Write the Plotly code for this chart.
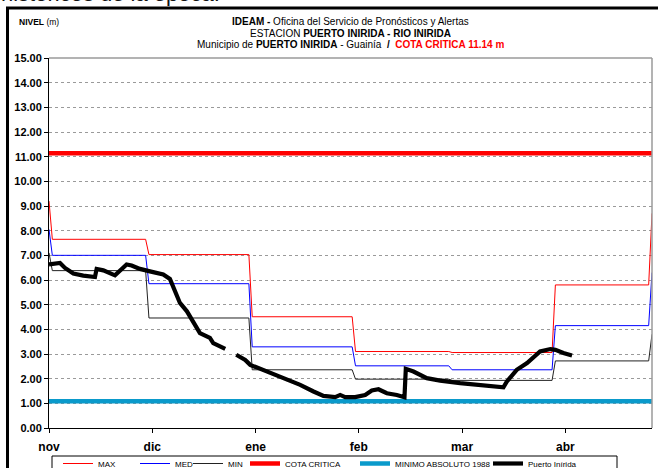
import plotly.graph_objects as go

# ---- data -------------------------------------------------------------
# x axis is a running day index (0 = 1 nov ... 181 = 30 abr)
MONTH_LABELS = ["nov", "dic", "ene", "feb", "mar", "abr"]
TICK_DAYS = [0, 31, 62, 93, 124, 155]
LAST_DAY = 181

# historical monthly statistics (m), one value per month nov..abr
MONTH_FIRST = [1, 30, 61, 92, 121, 152]
MONTH_LAST = [29, 60, 91, 120, 151, 180]
MAX_START, MAX_END = 9.20, 8.70
MAX_MONTHLY = [7.65, 7.03, 4.51, 3.10, 3.06, 5.80]
MED_START, MED_END = 8.05, 6.30
MED_MONTHLY = [7.00, 5.85, 3.29, 2.52, 2.36, 4.15]
MIN_START, MIN_END = 7.10, 3.80
MIN_MONTHLY = [6.38, 4.46, 2.36, 1.98, 1.93, 2.72]

COTA_CRITICA = 11.14
MINIMO_ABSOLUTO_1988 = 1.08

# observed daily level at Puerto Inírida (None = missing record)
OBS_DAY = [0, 3.3, 4.8, 7.3, 10.3, 13.8, 14.3, 16.3, 19.8, 21.8, 23.3, 24.8,
           27.3, 30.3, 34.3, 36.3, 37.3, 39.3, 41.4, 43.3, 45.3, 48.3, 49.3,
           52.9, 54.5, 56.2, 58.9, 60.4, 64.0, 69.4, 75.4, 79.4, 82.4, 85.9,
           87.4, 88.9, 91.9, 94.9, 96.9, 98.9, 99.9, 101.4, 104.4, 106.7,
           107.1, 109.4, 113.4, 117.4, 123.4, 129.4, 136.4, 137.4, 140.4,
           143.5, 147.4, 150.5, 152.0, 154.4, 157.0]
OBS_LEVEL = [6.63, 6.69, 6.49, 6.26, 6.18, 6.12, 6.45, 6.39, 6.19, 6.45, 6.63,
             6.59, 6.45, 6.35, 6.22, 6.04, 5.74, 5.07, 4.73, 4.26, 3.85, 3.65,
             3.44, 3.21, None, 2.97, 2.76, 2.56, 2.36, 2.09, 1.75, 1.48, 1.30,
             1.25, 1.34, 1.25, 1.25, 1.34, 1.52, 1.57, 1.52, 1.41, 1.34, 1.25,
             2.40, 2.29, 2.02, 1.92, 1.82, 1.73, 1.65, 1.88, 2.36, 2.63, 3.10,
             3.20, 3.17, 3.04, 2.94]


def step_series(start, monthly, end):
    """Day/level pairs for a month-by-month statistic."""
    xs, ys = [0], [start]
    for first, last, v in zip(MONTH_FIRST, MONTH_LAST, monthly):
        xs += [first, last]
        ys += [v, v]
    xs.append(LAST_DAY)
    ys.append(end)
    return xs, ys


ARIAL = "Liberation Sans, Arial, sans-serif"

fig = go.Figure()

for name, color, width, (xs, ys), lw in [
    ("MAX", "#ff0000", 1, step_series(MAX_START, MAX_MONTHLY, MAX_END), 32),
    ("MED", "#0000ff", 1, step_series(MED_START, MED_MONTHLY, MED_END), 8),
    ("MIN", "#222222", 1, step_series(MIN_START, MIN_MONTHLY, MIN_END), 12),
]:
    fig.add_trace(go.Scatter(x=xs, y=ys, mode="lines", name=name,
                             line=dict(color=color, width=width),
                             legendwidth=lw))

fig.add_trace(go.Scatter(x=[0, LAST_DAY], y=[COTA_CRITICA] * 2, mode="lines",
                         name="COTA CRITICA", legendwidth=65,
                         line=dict(color="#ff0000", width=4.5)))
fig.add_trace(go.Scatter(x=[0, LAST_DAY], y=[MINIMO_ABSOLUTO_1988] * 2,
                         mode="lines", name="MINIMO ABSOLUTO 1988",
                         legendwidth=88,
                         line=dict(color="#0a9acb", width=4.5)))
fig.add_trace(go.Scatter(x=OBS_DAY, y=OBS_LEVEL, mode="lines",
                         name="Puerto Inírida", legendwidth=55,
                         line=dict(color="#000000", width=4.2)))

fig.update_xaxes(range=[0, LAST_DAY], tickvals=TICK_DAYS,
                 ticktext=MONTH_LABELS, ticks="outside", ticklen=4,
                 tickcolor="#000", showline=True, linecolor="#000",
                 linewidth=1, showgrid=False, zeroline=False,
                 ticklabelstandoff=4,
                 tickfont=dict(family=ARIAL, size=12, color="#000",
                               weight="bold"))
fig.update_yaxes(range=[0, 15], dtick=1, tickformat=".2f", ticks="outside",
                 ticklen=4, tickcolor="#000", showline=True, linecolor="#000",
                 linewidth=1, showgrid=True, gridcolor="#9a9a9a",
                 griddash="dot", gridwidth=1, zeroline=False,
                 tickfont=dict(family=ARIAL, size=11, color="#000",
                               weight="bold"))


def py(p):
    """pixel row -> paper y"""
    return (428 - p) / 370


def px(p):
    """pixel column -> paper x"""
    return (p - 49) / 603


shapes = [
    # plot frame (top / right)
    dict(type="line", xref="paper", yref="paper", x0=0, x1=1, y0=1, y1=1,
         line=dict(color="#9a9a9a", width=1.5)),
    dict(type="line", xref="paper", yref="paper", x0=1, x1=1, y0=0, y1=1,
         line=dict(color="#9a9a9a", width=1.5)),
    # outer chart border
    dict(type="line", xref="paper", yref="paper", x0=px(7.5), x1=px(7.5),
         y0=py(500), y1=py(8), line=dict(color="#000", width=3)),
    dict(type="line", xref="paper", yref="paper", x0=px(6), x1=px(700),
         y0=py(8), y1=py(8), line=dict(color="#000", width=3)),
    # legend box
    dict(type="rect", xref="paper", yref="paper", x0=px(52), x1=px(617),
         y0=py(456), y1=py(480), line=dict(color="#000", width=1)),
]

title_lines = [
    ("<b>IDEAM -</b> Oficina del Servicio de Pronósticos y Alertas", 21.5),
    ("ESTACION <b>PUERTO INIRIDA - RIO INIRIDA</b>", 33),
    ("Municipio de <b>PUERTO INIRIDA</b> - Guainía  <b>/</b>  "
     "<b><span style='color:#ff0000'>COTA CRITICA 11.14 m</span></b>", 44.5),
]

annotations = [
    dict(text="históricos de la época.", xref="paper", yref="paper",
         x=px(-1), y=py(8), xanchor="left", yanchor="bottom",
         showarrow=False, font=dict(family=ARIAL, size=22, color="#111")),
    dict(text="<b>NIVEL</b> (m)", xref="paper", yref="paper", x=px(17),
         y=py(22), xanchor="left", yanchor="middle", showarrow=False,
         font=dict(family=ARIAL, size=8.5, color="#000")),
]
for text, row in title_lines:
    annotations.append(dict(text=text, xref="paper", yref="paper", x=0.5,
                            y=py(row), xanchor="center", yanchor="middle",
                            height=11, showarrow=False, borderpad=0,
                            font=dict(family=ARIAL, size=10, color="#000")))

fig.update_layout(
    width=658, height=468,
    margin=dict(l=49, r=6, t=58, b=40, autoexpand=False),
    paper_bgcolor="#fff", plot_bgcolor="#fff",
    shapes=shapes, annotations=annotations,
    showlegend=True,
    legend=dict(orientation="h", x=px(58), y=py(449), xanchor="left",
                yanchor="top", bgcolor="rgba(0,0,0,0)", borderwidth=0,
                itemwidth=30, tracegroupgap=0,
                font=dict(family=ARIAL, size=8, color="#000")),
)

fig.write_html("out.html")
